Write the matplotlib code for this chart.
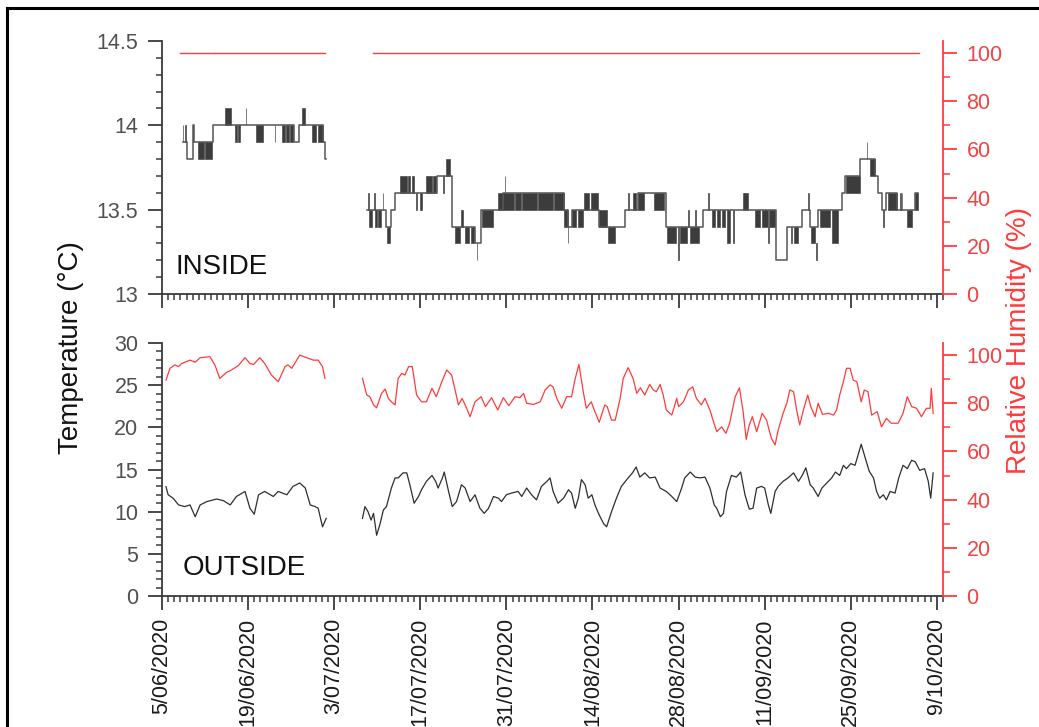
import numpy as np
import matplotlib
matplotlib.use('Agg')
import matplotlib.pyplot as plt
from matplotlib.lines import Line2D
from matplotlib.ticker import MultipleLocator

plt.rcParams['font.family'] = ['Liberation Sans', 'DejaVu Sans']

NAN = np.nan

# ---------------- x axis (days after 5/06/2020) ----------------
date_ticks = [0, 14, 28, 42, 56, 70, 84, 98, 112, 126]
date_labels = ['5/06/2020', '19/06/2020', '3/07/2020', '17/07/2020', '31/07/2020',
               '14/08/2020', '28/08/2020', '11/09/2020', '25/09/2020', '9/10/2020']

# ---------------- INSIDE temperature (step series, degC) ----------------
in_days = [3.37, 4.12, 4.99, 5.15, 8.3, 21.4, 22.2, 26.13, 26.5, 26.6, NAN,
           33.4, 36.5, 37.2, 37.9, 44.7, 47.1, 50.9, 51.8, 55.5, 65.3, 66.1, 66.6,
           71.0, 75.3, 77.4, 82.0, 87.9, 99.8, 101.6, 104.0, 105.3, 106.7, 110.6,
           111.0, 113.5, 115.9, 116.5, 117.0, 117.8, 119.5, 122.4, 123.0]
in_temp = [13.9, 13.8, 14.0, 13.9, 14.0, 13.9, 14.0, 13.9, 13.8, 13.8, NAN,
           13.5, 13.4, 13.5, 13.6, 13.7, 13.4, 13.3, 13.5, 13.6, 13.5, 13.4, 13.5,
           13.4, 13.5, 13.6, 13.4, 13.5, 13.2, 13.4, 13.5, 13.4, 13.5, 13.6,
           13.7, 13.8, 13.7, 13.6, 13.5, 13.6, 13.5, 13.6, 13.6]

# rapid flicker between two logger levels (start day, end day, low, high)
band_start = [3.40, 3.75, 5.80, 7.00, 10.24, 11.87, 12.35, 13.66, 15.28, 18.35,
              19.46, 20.15, 20.75, 22.71, 24.34, 25.30,
              33.50, 33.70, 34.50, 34.70, 35.20, 35.90, 36.60, 38.70, 40.00, 40.60,
              41.30, 42.00, 43.00, 44.10, 45.70, 46.20, 47.60, 48.70, 49.20, 50.30,
              51.20, 52.00, 54.70, 55.70, 55.50, 57.40, 58.50, 61.20, 63.70, 65.30,
              66.00, 66.70, 67.60, 68.60, 69.70, 71.00, 72.50, 75.80, 76.60, 77.40,
              80.00, 82.20, 83.90, 84.30, 85.60, 85.90, 86.70, 88.80, 89.40, 90.20,
              91.00, 91.80, 92.90, 94.50, 96.40, 97.50, 98.70, 98.60, 102.30, 102.80,
              105.10, 105.50, 106.40, 107.00, 108.90, 111.30, 114.60, 115.10, 117.30,
              118.10, 120.00, 120.30, 121.10, 122.40]
band_end = [3.48, 3.83, 6.90, 8.10, 11.20, 12.15, 12.75, 13.74, 16.48, 18.43,
            20.00, 20.60, 21.36, 23.25, 25.10, 26.13,
            33.58, 34.10, 34.60, 34.90, 35.60, 36.00, 37.10, 39.90, 40.40, 41.00,
            41.40, 42.30, 43.90, 44.60, 45.80, 46.90, 48.50, 48.90, 50.00, 50.80,
            51.30, 53.80, 55.50, 55.80, 57.20, 58.30, 61.00, 63.50, 65.30, 66.00,
            66.10, 67.30, 68.40, 69.40, 70.90, 72.30, 73.70, 76.00, 77.00, 78.40,
            81.70, 83.60, 84.00, 85.30, 85.70, 87.40, 86.80, 88.90, 90.00, 90.80,
            91.50, 92.40, 93.00, 95.30, 97.30, 98.50, 99.60, 98.70, 102.50, 103.40,
            105.20, 106.20, 106.50, 108.60, 110.00, 113.50, 114.70, 115.90, 117.40,
            119.50, 120.10, 120.40, 122.00, 123.00]
band_lo = [13.9, 13.9, 13.8, 13.8, 14.0, 13.9, 13.9, 14.0, 13.9, 13.9,
           13.9, 13.9, 13.9, 14.0, 13.9, 13.9,
           13.5, 13.4, 13.5, 13.4, 13.4, 13.5, 13.3, 13.6, 13.6, 13.6,
           13.5, 13.5, 13.6, 13.6, 13.6, 13.7, 13.3, 13.4, 13.3, 13.3,
           13.2, 13.4, 13.5, 13.6, 13.5, 13.5, 13.5, 13.5, 13.5, 13.4,
           13.3, 13.4, 13.4, 13.5, 13.5, 13.4, 13.3, 13.5, 13.5, 13.5,
           13.5, 13.3, 13.2, 13.3, 13.4, 13.3, 13.4, 13.5, 13.4, 13.4,
           13.4, 13.3, 13.3, 13.5, 13.4, 13.4, 13.4, 13.3, 13.3, 13.3,
           13.5, 13.3, 13.2, 13.4, 13.3, 13.6, 13.8, 13.7, 13.4,
           13.5, 13.5, 13.5, 13.4, 13.5]
band_hi = [14.0, 14.0, 13.9, 13.9, 14.1, 14.0, 14.0, 14.1, 14.0, 14.0,
           14.0, 14.0, 14.0, 14.1, 14.0, 14.0,
           13.6, 13.5, 13.6, 13.5, 13.5, 13.6, 13.4, 13.7, 13.7, 13.7,
           13.6, 13.6, 13.7, 13.7, 13.7, 13.8, 13.4, 13.5, 13.4, 13.4,
           13.3, 13.5, 13.6, 13.7, 13.6, 13.6, 13.6, 13.6, 13.6, 13.5,
           13.4, 13.5, 13.5, 13.6, 13.6, 13.5, 13.4, 13.6, 13.6, 13.6,
           13.6, 13.4, 13.4, 13.4, 13.5, 13.4, 13.5, 13.6, 13.5, 13.5,
           13.5, 13.5, 13.5, 13.6, 13.5, 13.5, 13.5, 13.4, 13.4, 13.4,
           13.6, 13.4, 13.3, 13.5, 13.5, 13.7, 13.9, 13.8, 13.5,
           13.6, 13.6, 13.6, 13.5, 13.6]

# INSIDE relative humidity (%)
rh_in_days = [2.9, 8.45, NAN, 8.6, 26.5, NAN, 34.3, 123.1]
rh_in = [100, 100, NAN, 100, 100, NAN, 100, 100]

# ---------------- OUTSIDE ----------------
out_days = [0.65, 1.0, 1.8, 2.7, 3.7, 4.55, 5.4, 6.2, 7.3, 8.9, 10.0, 11.1, 12.1, 13.5,
            14.3, 15.0, 15.7, 16.7, 18.1, 18.9, 20.3, 21.3, 22.4, 23.3, 24.1, 24.9,
            25.4, 26.1, 26.7, NAN,
            32.6, 33.0, 33.5, 34.0, 34.4, 34.9, 35.4, 36.0, 36.5, 37.3, 37.9, 38.4,
            39.2, 39.8, 40.3, 41.0, 41.7, 42.2, 43.0, 43.9, 44.5, 44.9, 45.6, 45.9,
            46.6, 47.2, 47.9, 48.7, 49.3, 50.1, 50.9, 51.7, 52.4, 53.1, 53.9, 54.7,
            55.2, 56.0, 56.8, 57.9, 58.5, 59.3, 60.1, 60.9, 61.7, 62.6, 63.1, 63.6,
            64.4, 65.3, 66.1, 66.6, 67.2, 67.7, 68.2, 68.8, 69.3, 69.9, 70.4, 71.1,
            71.8, 72.3, 73.1, 73.9, 74.7, 75.8, 76.5, 77.1, 77.7, 78.5, 79.3, 80.2,
            81.0, 82.0, 82.9, 83.7, 84.5, 85.0, 85.9, 86.7, 87.5, 88.3, 89.1, 89.8,
            90.2, 90.8, 91.3, 91.8, 92.6, 93.4, 94.1, 94.8, 95.5, 96.1, 96.7, 97.5,
            98.0, 98.6, 99.0, 99.7, 100.2, 101.0, 101.8, 102.7, 103.5, 104.1, 104.7,
            105.4, 105.9, 106.7, 107.3, 108.1, 108.9, 109.5, 110.2, 110.8, 111.3,
            112.0, 112.7, 113.7, 114.3, 115.0, 115.7, 116.2, 116.7, 117.3, 117.8,
            118.4, 119.2, 119.8, 120.5, 121.2, 121.9, 122.5, 123.2, 124.0, 124.6,
            125.0, 125.4]
out_temp = [12.96, 12.0, 11.6, 10.8, 10.6, 10.8, 9.4, 10.8, 11.2, 11.5, 11.3, 10.8, 11.8, 12.4,
            10.4, 9.7, 12.0, 12.4, 11.8, 12.4, 12.0, 13.0, 13.4, 12.8, 10.8, 10.6,
            10.4, 8.2, 9.2, NAN,
            9.2, 10.6, 10.0, 9.0, 9.8, 7.2, 8.4, 10.2, 10.6, 12.8, 14.0, 14.0,
            14.6, 14.6, 13.2, 11.0, 11.8, 12.6, 13.6, 14.3, 13.6, 12.8, 14.0, 14.7,
            12.4, 10.6, 11.2, 13.2, 12.8, 11.2, 12.0, 10.4, 9.8, 10.4, 11.8, 11.6,
            11.2, 12.0, 12.2, 12.4, 11.8, 12.8, 12.0, 11.4, 13.0, 13.6, 14.0, 12.4,
            11.0, 11.6, 12.6, 12.2, 10.4, 11.6, 13.8, 13.2, 11.6, 12.0, 10.8, 9.6,
            8.6, 8.2, 10.0, 11.6, 13.0, 14.0, 14.6, 15.3, 14.1, 14.6, 14.0, 14.1,
            12.8, 12.4, 11.8, 11.2, 12.8, 14.0, 14.7, 14.1, 14.0, 14.1, 12.8, 10.8,
            10.4, 9.4, 9.8, 12.4, 14.3, 14.1, 14.7, 12.0, 10.3, 10.4, 12.8, 13.0,
            12.8, 10.8, 9.8, 12.4, 13.0, 13.6, 14.0, 14.6, 13.6, 14.3, 15.2,
            13.2, 12.8, 11.8, 12.8, 13.4, 14.0, 14.7, 14.3, 15.5, 15.1,
            15.7, 15.5, 18.0, 16.5, 14.8, 14.0, 12.4, 11.6, 12.0, 11.4,
            12.4, 12.2, 14.0, 15.5, 15.1, 16.1, 15.9, 14.9, 15.1, 13.6,
            11.6, 14.6]

rh_out_days = [0.65, 1.3, 2.1, 2.7, 3.2, 4.55, 5.4, 6.2, 7.8, 8.6, 9.4, 10.5, 11.3, 12.4,
               13.5, 14.3, 14.9, 15.9, 16.7, 17.8, 18.9, 20.0, 20.5, 21.1, 22.4, 23.5,
               24.6, 25.4, 26.1, 26.5, NAN,
               32.6, 33.3, 33.8, 34.4, 34.9, 35.7, 36.3, 36.8, 37.3, 37.9, 38.4, 39.0,
               39.5, 40.1, 40.7, 41.4, 42.2, 43.0, 43.9, 44.6, 45.5, 46.3, 47.1, 47.6,
               48.2, 48.8, 49.3, 50.1, 50.9, 51.9, 52.6, 53.6, 54.6, 55.5, 56.4, 57.4,
               58.2, 58.8, 59.3, 60.4, 61.5, 62.3, 63.1, 63.6, 64.2, 65.0, 65.8, 66.6,
               67.2, 67.8, 68.5, 69.0, 69.8, 70.4, 71.1, 72.0, 72.4, 73.1, 73.7, 74.5,
               75.0, 75.8, 76.6, 77.2, 77.8, 78.5, 79.3, 79.9, 80.4, 81.0, 81.5, 82.0,
               82.9, 83.7, 84.0, 84.8, 85.6, 86.3, 86.9, 87.7, 88.3, 89.1, 89.6, 90.2,
               91.0, 91.7, 92.3, 93.2, 93.9, 94.5, 95.0, 95.5, 96.0, 96.7, 97.6, 98.3,
               99.1, 99.7, 100.2, 101.0, 101.6, 102.1, 102.7, 103.2, 103.7, 104.3,
               105.0, 105.5, 106.2, 106.7, 107.4, 108.4, 109.2, 109.7, 110.2, 110.8,
               111.3, 111.9, 112.4, 113.0, 113.7, 114.2, 114.8, 115.4, 116.3, 117.0,
               117.8, 118.6, 119.7, 120.5, 121.2, 121.9, 122.7, 123.5, 124.3, 124.9,
               125.1, 125.4]
rh_out = [89.6, 94.5, 95.9, 95.2, 96.5, 97.9, 97.0, 98.9, 99.3, 95.9, 90.3, 92.8, 93.8, 95.6,
          98.9, 96.5, 96.1, 98.9, 96.5, 91.7, 88.9, 95.2, 95.9, 94.5, 100.0, 98.9,
          97.9, 97.9, 95.2, 90.3, NAN,
          90.3, 83.4, 82.7, 79.3, 78.1, 84.1, 85.9, 82.0, 80.6, 79.3, 90.3, 92.4,
          91.7, 95.2, 95.2, 83.4, 80.6, 80.6, 86.2, 82.7, 88.9, 93.8, 91.7, 86.2,
          79.3, 82.0, 79.3, 74.4, 80.6, 82.7, 78.6, 82.3, 77.2, 82.3, 79.0, 82.7,
          82.3, 84.1, 80.0, 79.5, 80.6, 85.5, 87.6, 86.8, 82.0, 77.9, 82.7, 82.7,
          90.3, 96.1, 84.8, 77.9, 80.6, 76.5, 72.1, 79.3, 78.6, 73.0, 73.0, 82.0,
          90.3, 94.8, 90.3, 84.1, 86.4, 83.4, 87.8, 85.5, 84.8, 87.8, 83.4, 77.2,
          75.1, 82.0, 78.6, 80.6, 85.5, 86.8, 82.0, 79.3, 82.0, 77.2, 73.0, 68.2,
          70.2, 67.5, 71.7, 82.7, 86.4, 76.5, 65.0, 71.0, 74.4, 68.2, 75.8, 73.0,
          65.4, 62.7, 68.9, 75.8, 80.0, 85.5, 84.8, 77.2, 71.0, 77.2,
          83.4, 78.6, 74.4, 80.0, 75.4, 75.8, 75.1, 77.2, 83.4, 88.9,
          94.5, 94.5, 89.6, 88.9, 80.6, 85.5, 84.8, 75.1, 76.5, 70.2,
          73.7, 71.7, 71.7, 75.8, 82.7, 78.6, 77.9, 74.4, 77.9, 77.9,
          86.2, 75.8]

# ---------------- styling ----------------
RED = '#FF3B3B'
RED_TXT = '#F04545'
AX_COL = '#3a3a3a'
TICK_TXT = '#505050'

fig = plt.figure(figsize=(10.39, 7.27), dpi=100)
L, W = 162 / 1039, 781 / 1039
H = 253 / 727
ax1 = fig.add_axes([L, 1 - 294 / 727, W, H])
ax2 = fig.add_axes([L, 1 - 596 / 727, W, H])
ax1r = ax1.twinx()
ax2r = ax2.twinx()

# inside data
ax1.bar(band_start, np.array(band_hi) - np.array(band_lo),
        width=np.array(band_end) - np.array(band_start), bottom=band_lo,
        align='edge', color='#3c3c3c', edgecolor='#4a4a4a', linewidth=0.5, zorder=2)
ax1.plot(in_days, in_temp, drawstyle='steps-post', color='#555555', lw=1.1, zorder=3)
ax1r.plot(rh_in_days, rh_in, color=RED, lw=1.0)

# outside data
ax2.plot(out_days, out_temp, color='#2e2e2e', lw=0.9)
ax2r.plot(rh_out_days, rh_out, color=RED, lw=0.9)

for ax in (ax1, ax2):
    ax.set_xlim(0, 127)
    ax.spines['top'].set_visible(False)
    ax.spines['right'].set_visible(False)
    for s in ('left', 'bottom'):
        ax.spines[s].set_color(AX_COL)
        ax.spines[s].set_linewidth(1.3)
    ax.set_xticks(date_ticks)
    ax.xaxis.set_minor_locator(MultipleLocator(1))
    ax.tick_params(which='major', direction='out', length=10, width=1.3, color=AX_COL,
                   labelsize=15.5, labelcolor=TICK_TXT, pad=7)
    ax.tick_params(which='minor', direction='out', length=4.5, width=1.1, color=AX_COL)
    ax.patch.set_visible(False)

ax1.set_ylim(13, 14.5)
ax1.set_yticks([13, 13.5, 14, 14.5])
ax1.set_yticklabels(['13', '13.5', '14', '14.5'])
ax1.yaxis.set_minor_locator(MultipleLocator(0.1))
ax1.tick_params(axis='x', labelbottom=False)

ax2.set_ylim(0, 30)
ax2.set_yticks([0, 5, 10, 15, 20, 25, 30])
ax2.yaxis.set_minor_locator(MultipleLocator(1))
ax2.set_xticklabels(date_labels, rotation=90, fontsize=15.5, color='#1a1a1a')
ax2.tick_params(axis='x', pad=6)

for axr in (ax1r, ax2r):
    axr.set_xlim(0, 127)
    for s in ('left', 'top', 'bottom'):
        axr.spines[s].set_visible(False)
    axr.spines['right'].set_color(RED)
    axr.spines['right'].set_linewidth(1.3)
    axr.set_ylim(0, 105)
    axr.set_yticks([0, 20, 40, 60, 80, 100])
    axr.yaxis.set_minor_locator(MultipleLocator(10))
    axr.tick_params(which='major', direction='out', length=10, width=1.3, color=RED,
                    labelsize=15.5, labelcolor=RED_TXT, pad=7)
    axr.tick_params(which='minor', direction='out', length=5, width=1.1, color=RED)

# texts
fig.text(175 / 1039, 1 - 274 / 727, 'INSIDE', fontsize=20, color='#111111', va='baseline')
fig.text(183 / 1039, 1 - 575 / 727, 'OUTSIDE', fontsize=20, color='#111111', va='baseline')
fig.text(71 / 1039, 1 - 348 / 727, 'Temperature (°C)', rotation=90, fontsize=20,
         ha='center', va='center', color='#111111')
fig.text(1019 / 1039, 1 - 340 / 727, 'Relative Humidity (%)', rotation=90, fontsize=20,
         ha='center', va='center', color=RED)

# outer frame (left and top edges visible)
fig.add_artist(Line2D([7 / 1039, 7 / 1039], [0, 1 - 8 / 727], transform=fig.transFigure,
                      color='black', lw=2.2))
fig.add_artist(Line2D([7 / 1039, 1], [1 - 8 / 727, 1 - 8 / 727], transform=fig.transFigure,
                      color='black', lw=2.2))

fig.savefig('out.png', dpi=100)
